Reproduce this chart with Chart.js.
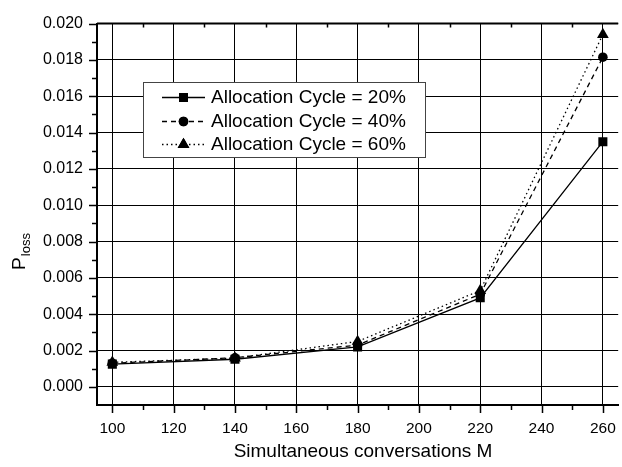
<!DOCTYPE html>
<html>
<head>
<meta charset="utf-8">
<script src="https://cdn.jsdelivr.net/npm/chart.js@4/dist/chart.umd.min.js"></script>
<style>
html,body{margin:0;padding:0;background:#fff;overflow:hidden;width:622px;height:467px;}
canvas{display:block;}
</style>
</head>
<body>
<canvas id="c" width="630" height="467"></canvas>
<script>
// ---- data ----
const conversations = [100, 140, 180, 220, 260];
const cycle20 = [0.00125, 0.00152, 0.0022, 0.0049, 0.0135];
const cycle40 = [0.0013, 0.0016, 0.0023, 0.0051, 0.01815];
const cycle60 = [0.00135, 0.00158, 0.0025, 0.0053, 0.0194];
const seriesLabels = ['Allocation Cycle = 20%', 'Allocation Cycle = 40%', 'Allocation Cycle = 60%'];
const xTicks = [100, 120, 140, 160, 180, 200, 220, 240, 260];
const yTicks = [0.000, 0.002, 0.004, 0.006, 0.008, 0.010, 0.012, 0.014, 0.016, 0.018, 0.020];
const xTitle = 'Simultaneous conversations M';
const yTitleMain = 'P';
const yTitleSub = 'loss';

const FONT = '"Liberation Sans", Arial, Helvetica, sans-serif';

function pts(ys){ return conversations.map((x,i)=>({x:x, y:ys[i]})); }

const styles = [
  {pointStyle:'rect', pointRadius:6.4, dash:[]},
  {pointStyle:'circle', pointRadius:4.8, dash:[5,4]},
  {pointStyle:'triangle', pointRadius:6.8, dash:[1.5,3]}
];
const allSeries = [cycle20, cycle40, cycle60];

const datasets = allSeries.map((s,i)=>({
  label: seriesLabels[i],
  data: pts(s),
  borderColor:'#000',
  backgroundColor:'#000',
  borderWidth:1.3,
  borderDash: styles[i].dash,
  pointStyle: styles[i].pointStyle,
  pointRadius: styles[i].pointRadius,
  pointBorderWidth:0,
  pointBackgroundColor:'#000',
  tension:0
}));

const decor = {
  id:'decor',
  afterDatasetsDraw(chart){
    const ctx = chart.ctx;
    const ca = chart.chartArea;
    const xs = chart.scales.x, ys = chart.scales.y;
    ctx.save();
    // top border
    ctx.strokeStyle = '#000';
    ctx.lineWidth = 2;
    ctx.beginPath();
    ctx.moveTo(ca.left, ca.top); ctx.lineTo(ca.right, ca.top);
    ctx.stroke();
    // ticks
    ctx.lineWidth = 1.5;
    ctx.beginPath();
    for (let v = 100; v <= 260; v += 10) {
      const px = Math.round(xs.getPixelForValue(v)) + 0.5;
      const major = (v % 20 === 0);
      ctx.moveTo(px, ca.bottom); ctx.lineTo(px, ca.bottom + (major ? 8 : 5));
      if (!major) { ctx.moveTo(px, ca.top); ctx.lineTo(px, ca.top + 4); }
    }
    for (let k = 0; k <= 20; k++) {
      const v = k / 1000;
      const py = Math.round(ys.getPixelForValue(v)) + 0.5;
      const major = (k % 2 === 0);
      ctx.moveTo(ca.left, py); ctx.lineTo(ca.left - (major ? 8 : 5), py);
    }
    ctx.stroke();

    // legend
    const bx = 143.5, by = 82.5, bw = 282, bh = 75;
    ctx.fillStyle = '#fff';
    ctx.fillRect(bx, by, bw, bh);
    ctx.strokeStyle = '#444';
    ctx.lineWidth = 1;
    ctx.strokeRect(bx, by, bw, bh);
    const rows = [97, 121, 144];
    chart.data.datasets.forEach((ds, i) => {
      const y = rows[i];
      ctx.strokeStyle = '#000';
      ctx.lineWidth = 1.3;
      ctx.setLineDash(ds.borderDash);
      ctx.beginPath(); ctx.moveTo(162, y + 0.5); ctx.lineTo(205, y + 0.5); ctx.stroke();
      ctx.setLineDash([]);
      ctx.fillStyle = '#000';
      Chart.helpers.drawPoint(ctx, {pointStyle: ds.pointStyle, radius: ds.pointRadius, borderWidth: 0, rotation: 0}, 183.5, y + 0.5);
      ctx.fill();
      ctx.font = '19px ' + FONT;
      ctx.textBaseline = 'middle';
      ctx.textAlign = 'left';
      ctx.fillText(ds.label, 211, y + 1);
    });

    // x title
    ctx.fillStyle = '#000';
    ctx.font = '19px ' + FONT;
    ctx.textAlign = 'center';
    ctx.textBaseline = 'middle';
    ctx.fillText(xTitle, 363, 452);

    // y title with subscript
    ctx.translate(20, 252);
    ctx.rotate(-Math.PI / 2);
    ctx.textAlign = 'left';
    ctx.textBaseline = 'middle';
    ctx.font = '19px ' + FONT;
    const wP = ctx.measureText(yTitleMain).width;
    ctx.font = '13px ' + FONT;
    const wS = ctx.measureText(yTitleSub).width;
    const start = -(wP + wS) / 2;
    ctx.font = '19px ' + FONT;
    ctx.fillText(yTitleMain, start, 0);
    ctx.font = '13px ' + FONT;
    ctx.fillText(yTitleSub, start + wP + 1, 6);
    ctx.restore();
  }
};

new Chart(document.getElementById('c'), {
  type:'line',
  data:{datasets: datasets},
  options:{
    responsive:false,
    animation:false,
    devicePixelRatio:1,
    layout:{padding:{top:15, right:6, left:0, bottom:0}},
    plugins:{legend:{display:false}, tooltip:{enabled:false}},
    scales:{
      x:{
        type:'linear', min:95, max:265,
        afterBuildTicks(s){ s.ticks = xTicks.map(v=>({value:v})); },
        afterFit(s){ s.height = 62; },
        grid:{color:'#000', lineWidth:1, drawTicks:false},
        border:{color:'#000', width:2},
        ticks:{color:'#000', font:{family:FONT, size:15.5}, padding:14, maxRotation:0,
               callback:(v)=>String(v)}
      },
      y:{
        type:'linear', min:-0.001, max:0.020,
        afterBuildTicks(s){ s.ticks = yTicks.map(v=>({value:v})); },
        afterFit(s){ s.width = 97; },
        grid:{color:'#000', lineWidth:1, drawTicks:false},
        border:{color:'#000', width:2},
        ticks:{color:'#000', font:{family:FONT, size:16}, padding:14,
               callback:(v)=>Number(v).toFixed(3)}
      }
    }
  },
  plugins:[decor]
});
</script>
</body>
</html>
